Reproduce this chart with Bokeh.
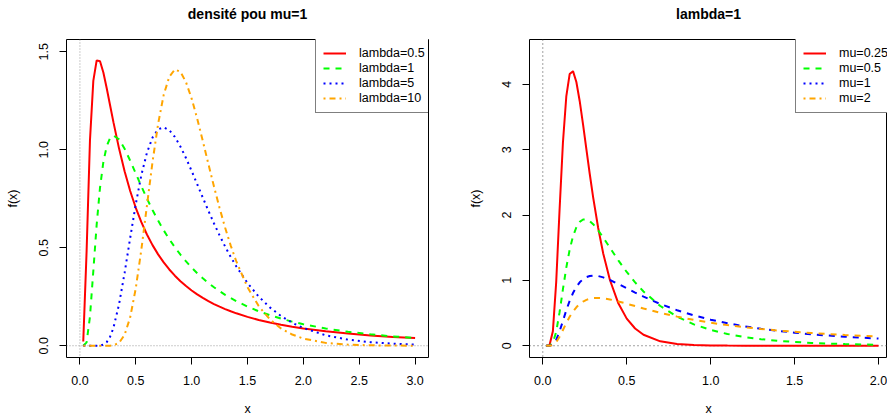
from bokeh.plotting import figure
from bokeh.models import Span, Legend, LegendItem, FixedTicker, Title
from bokeh.core.properties import value
from bokeh.layouts import row
from bokeh.embed import file_html
from bokeh.resources import INLINE

FONT = "Liberation Sans"

# ---------------- left panel data: density for mu = 1 ----------------
x_left = [0.03, 0.06, 0.09, 0.12, 0.15, 0.18, 0.21, 0.24, 0.27, 0.30, 0.35, 0.40,
          0.45, 0.50, 0.55, 0.60, 0.65, 0.70, 0.75, 0.80, 0.85, 0.90, 0.95, 1.00,
          1.05, 1.10, 1.15, 1.20, 1.25, 1.30, 1.35, 1.40, 1.50, 1.60, 1.70, 1.80,
          1.90, 2.00, 2.20, 2.40, 2.60, 2.80, 3.00]
lambda_05 = [0.0213, 0.4833, 1.0472, 1.3520, 1.4565, 1.4518, 1.3943, 1.3145, 1.2275, 1.1412,
             1.0075, 0.8904, 0.7899, 0.7041, 0.6308, 0.5678, 0.5135, 0.4664, 0.4254, 0.3893,
             0.3576, 0.3295, 0.3045, 0.2821, 0.2620, 0.2440, 0.2276, 0.2128, 0.1993, 0.1870,
             0.1758, 0.1655, 0.1473, 0.1318, 0.1184, 0.1069, 0.0968, 0.0880, 0.0734, 0.0619,
             0.0526, 0.0451, 0.0389]
lambda_1 = [0.0000, 0.0172, 0.1484, 0.3810, 0.6179, 0.8069, 0.9380, 1.0185, 1.0599, 1.0729,
            1.0536, 1.0055, 0.9443, 0.8788, 0.8136, 0.7513, 0.6928, 0.6388, 0.5891, 0.5438,
            0.5024, 0.4647, 0.4303, 0.3989, 0.3703, 0.3442, 0.3203, 0.2985, 0.2784, 0.2600,
            0.2431, 0.2275, 0.1998, 0.1761, 0.1558, 0.1383, 0.1231, 0.1098, 0.0881, 0.0713,
            0.0582, 0.0477, 0.0394]
lambda_5 = [0.0, 0.0, 0.0, 0.0, 0.0001, 0.0010, 0.0055, 0.0185, 0.0458, 0.0915,
            0.2107, 0.3716, 0.5504, 0.7229, 0.8712, 0.9855, 1.0627, 1.1045, 1.1151, 1.1002,
            1.0655, 1.0162, 0.9571, 0.8921, 0.8242, 0.7558, 0.6888, 0.6244, 0.5633, 0.5062,
            0.4533, 0.4047, 0.3201, 0.2511, 0.1958, 0.1519, 0.1173, 0.0904, 0.0532, 0.0311,
            0.0182, 0.0106, 0.0061]
lambda_10 = [0.0, 0.0, 0.0, 0.0, 0.0, 0.0, 0.0, 0.0001, 0.0005, 0.0022,
             0.0146, 0.0554, 0.1450, 0.2929, 0.4907, 0.7156, 0.9382, 1.1326, 1.2805, 1.3731,
             1.4103, 1.3977, 1.3447, 1.2616, 1.1587, 1.0449, 0.9276, 0.8124, 0.7030, 0.6021,
             0.5110, 0.4301, 0.2984, 0.2024, 0.1347, 0.0883, 0.0572, 0.0366, 0.0146, 0.0057,
             0.0022, 0.0008, 0.0003]
left_labels = ["lambda=0.5", "lambda=1", "lambda=5", "lambda=10"]
left_x_ticks = [0, 0.5, 1, 1.5, 2, 2.5, 3]
left_x_tick_labels = ["0.0", "0.5", "1.0", "1.5", "2.0", "2.5", "3.0"]
left_y_ticks = [0, 0.5, 1, 1.5]
left_y_tick_labels = ["0.0", "0.5", "1.0", "1.5"]

# ---------------- right panel data: lambda = 1 ----------------
x_right = [0.02, 0.04, 0.06, 0.08, 0.10, 0.12, 0.14, 0.16, 0.18, 0.20, 0.22, 0.24,
           0.26, 0.28, 0.30, 0.33, 0.36, 0.40, 0.45, 0.50, 0.55, 0.60, 0.70, 0.80,
           0.90, 1.00, 1.10, 1.20, 1.30, 1.40, 1.50, 1.60, 1.70, 1.80, 1.90, 2.00]
mu_025 = [0.0, 0.0074, 0.2205, 0.9799, 2.0854, 3.1105, 3.8143, 4.1576, 4.2019, 4.0358,
          3.7416, 3.3818, 2.9999, 2.6242, 2.2713, 1.8021, 1.4115, 1.0055, 0.6490, 0.4151,
          0.2641, 0.1676, 0.0673, 0.0271, 0.0109, 0.0044, 0.0018, 0.0007, 0.0003, 0.0001,
          0.0001, 0.0, 0.0, 0.0, 0.0, 0.0]
mu_05 = [0.0, 0.0013, 0.0428, 0.2143, 0.5142, 0.8650, 1.1957, 1.4695, 1.6745, 1.8134,
         1.8955, 1.9318, 1.9320, 1.9056, 1.8596, 1.7664, 1.6564, 1.5000, 1.3070, 1.1284,
         0.9692, 0.8303, 0.6076, 0.4452, 0.3274, 0.2420, 0.1797, 0.1341, 0.1006, 0.0757,
         0.0572, 0.0434, 0.0331, 0.0253, 0.0194, 0.0149]
mu_1 = [0.0, 0.0005, 0.0172, 0.0889, 0.2198, 0.3810, 0.5428, 0.6872, 0.8069, 0.9005,
        0.9700, 1.0185, 1.0497, 1.0669, 1.0729, 1.0660, 1.0456, 1.0055, 0.9443, 0.8788,
        0.8136, 0.7513, 0.6388, 0.5438, 0.4647, 0.3989, 0.3442, 0.2985, 0.2600, 0.2275,
        0.1998, 0.1761, 0.1558, 0.1383, 0.1231, 0.1098]
mu_2 = [0.0, 0.0003, 0.0107, 0.0556, 0.1384, 0.2417, 0.3470, 0.4425, 0.5237, 0.5887,
        0.6389, 0.6759, 0.7019, 0.7188, 0.7282, 0.7317, 0.7259, 0.7086, 0.6781, 0.6429,
        0.6065, 0.5706, 0.5037, 0.4452, 0.3950, 0.3521, 0.3154, 0.2839, 0.2568, 0.2332,
        0.2127, 0.1947, 0.1788, 0.1647, 0.1522, 0.1410]
right_labels = ["mu=0.25", "mu=0.5", "mu=1", "mu=2"]
right_x_ticks = [0, 0.5, 1, 1.5, 2]
right_x_tick_labels = ["0.0", "0.5", "1.0", "1.5", "2.0"]
right_y_ticks = [0, 1, 2, 3, 4]
right_y_tick_labels = ["0", "1", "2", "3", "4"]

RED, GREEN, BLUE, ORANGE = "#FF0000", "#00FF00", "#0000FF", "#FFA500"
SOLID, DASH, DOT, DOTDASH = "solid", "6 6", "2 4", "2 4 6 4"


def style(p, xt, xtl, yt, ytl, title, offset=0):
    # spacer panel next to the frame, then the real title above it
    p.add_layout(Title(text=" ", text_font_size="1px", standoff=9), "above")
    p.add_layout(Title(text=title, align="center", text_font=FONT, text_font_size="14px",
                       text_font_style="bold", text_color="black", standoff=8,
                       vertical_align="top", offset=offset), "above")
    p.outline_line_color = "black"
    p.outline_line_width = 1
    p.background_fill_color = "white"
    p.border_fill_color = "white"
    p.xgrid.visible = False
    p.ygrid.visible = False
    for ax in (p.xaxis[0], p.yaxis[0]):
        ax.axis_line_color = None
        ax.major_tick_in = 0
        ax.major_tick_out = 7
        ax.major_tick_line_color = "black"
        ax.minor_tick_line_color = None
        ax.major_label_text_font = FONT
        ax.major_label_text_font_size = "12.5px"
        ax.major_label_text_color = "black"
        ax.axis_label_text_font = FONT
        ax.axis_label_text_font_size = "12.5px"
        ax.axis_label_text_font_style = "normal"
        ax.axis_label_text_color = "black"
        ax.major_label_standoff = 11
    p.xaxis[0].axis_label_standoff = 14
    p.yaxis[0].axis_label_standoff = 17
    p.xaxis[0].ticker = FixedTicker(ticks=xt)
    p.xaxis[0].major_label_overrides = {t: l for t, l in zip(xt, xtl)}
    p.yaxis[0].ticker = FixedTicker(ticks=yt)
    p.yaxis[0].major_label_overrides = {t: l for t, l in zip(yt, ytl)}
    p.yaxis[0].major_label_orientation = "vertical"
    p.xaxis[0].axis_label = "x"
    p.yaxis[0].axis_label = "f(x)"


def make_legend(items, loc):
    return Legend(items=items, location=loc, padding=7, spacing=1, margin=0,
                  glyph_width=23, glyph_height=14, label_height=14, label_standoff=13,
                  border_line_color="black", border_line_width=1,
                  background_fill_color="white", background_fill_alpha=1.0,
                  inactive_fill_alpha=0.0,
                  label_text_font=FONT, label_text_font_size="12.5px",
                  label_text_color="black")


# ---------------- left figure ----------------
p1 = figure(width=443, height=419, x_range=(-0.12, 3.12), y_range=(-0.06, 1.563),
            output_backend="svg", toolbar_location=None, title=None,
            min_border_left=66, min_border_right=15, min_border_top=39, min_border_bottom=62)
style(p1, left_x_ticks, left_x_tick_labels, left_y_ticks, left_y_tick_labels,
      "densité pou mu=1")
p1.add_layout(Span(location=0, dimension="height", line_color="#999999",
                   line_dash="1 2", line_width=1, level="underlay"))
p1.add_layout(Span(location=0, dimension="width", line_color="#999999",
                   line_dash="1 2", line_width=1, level="underlay"))
l_series = [lambda_05, lambda_1, lambda_5, lambda_10]
l_colors = [RED, GREEN, BLUE, ORANGE]
l_dash = [SOLID, DASH, DOT, DOTDASH]
l_items = []
for ys, c, d, lab in zip(l_series, l_colors, l_dash, left_labels):
    r = p1.line(x_left, ys, line_color=c, line_width=2, line_dash=d)
    l_items.append(LegendItem(label=value(lab), renderers=[r]))
p1.add_layout(make_legend(l_items, (249, 244)))

# ---------------- right figure ----------------
p2 = figure(width=444, height=419, x_range=(-0.0792, 2.0536), y_range=(-0.18, 4.686),
            output_backend="svg", toolbar_location=None, title=None,
            min_border_left=86, min_border_right=0, min_border_top=39, min_border_bottom=62)
style(p2, right_x_ticks, right_x_tick_labels, right_y_ticks, right_y_tick_labels,
      "lambda=1", offset=1)
p2.add_layout(Span(location=0, dimension="height", line_color="#444444",
                   line_dash="1 3", line_width=1, level="underlay"))
p2.add_layout(Span(location=0, dimension="width", line_color="#444444",
                   line_dash="1 3", line_width=1, level="underlay"))
r_red = p2.line(x_right, mu_025, line_color=RED, line_width=2)
r_green = p2.line(x_right, mu_05, line_color=GREEN, line_width=2, line_dash=DASH)
p2.line(x_right, mu_1, line_color=BLUE, line_width=2, line_dash=DASH)
p2.line(x_right, mu_2, line_color=ORANGE, line_width=2, line_dash=DASH)
# legend keys styled as in the reference legend (hidden lines, shown only as keys)
k_blue = p2.line(x_right, mu_1, line_color=BLUE, line_width=2, line_dash=DOT, visible=False)
k_orange = p2.line(x_right, mu_2, line_color=ORANGE, line_width=2, line_dash=DOTDASH,
                   visible=False)
r_items = [LegendItem(label=value(right_labels[0]), renderers=[r_red]),
           LegendItem(label=value(right_labels[1]), renderers=[r_green]),
           LegendItem(label=value(right_labels[2]), renderers=[k_blue]),
           LegendItem(label=value(right_labels[3]), renderers=[k_orange])]
p2.add_layout(make_legend(r_items, (266, 244)))

layout = row(p1, p2)
open("out.html", "w").write(file_html(layout, INLINE))
